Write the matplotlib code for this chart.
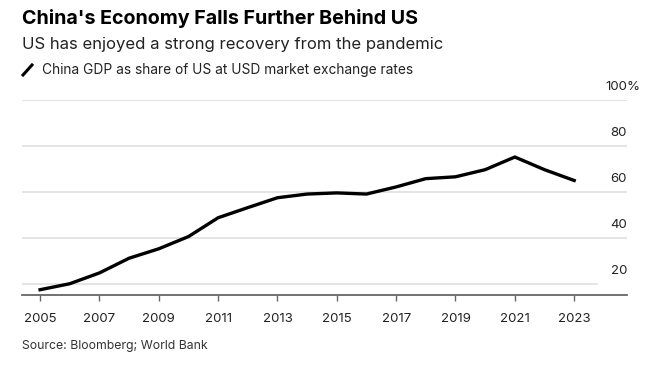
import matplotlib
matplotlib.use('Agg')
import matplotlib.pyplot as plt
import matplotlib.transforms as mtransforms

# China GDP as share of US (%)
years = [2005, 2006, 2007, 2008, 2009, 2010, 2011, 2012, 2013, 2014,
         2015, 2016, 2017, 2018, 2019, 2020, 2021, 2022, 2023]
share = [17.5, 20.1, 24.8, 31.2, 35.3, 40.6, 48.8, 53.2, 57.5, 59.1,
         59.6, 59.1, 62.2, 65.8, 66.6, 69.7, 75.2, 69.7, 65.0]
tick_years = list(range(2005, 2024, 2))
y_levels = [20, 40, 60, 80, 100]

plt.rcParams['font.family'] = ['Inter', 'Liberation Sans', 'DejaVu Sans']

W, H = 671, 370
fig = plt.figure(figsize=(W / 100, H / 100), dpi=100)

def fx(px):
    return px / W

def fy(py):
    return 1 - py / H

ax = fig.add_axes([fx(22), fy(295), fx(627) - fx(22), fy(100) - fy(295)])
ax.set_xlim(2004.39, 2024.78)
ax.set_ylim(15.2, 100)

for lv in y_levels:
    # the lowest gridline stops short of the label column
    ax.axhline(lv, xmax=0.95 if lv == 20 else 1.0, color='#e2e2e2', lw=1.3, zorder=1)

ax.plot(years, share, color='black', lw=2.4, solid_joinstyle='miter', zorder=3)

# y labels sit above the gridlines, right aligned
trans = mtransforms.blended_transform_factory(ax.transAxes, ax.transData)
for lv in y_levels:
    ax.annotate(f'{lv}', xy=(1.0, lv), xycoords=trans, xytext=(0, 9.5),
                textcoords='offset points', ha='right', va='center',
                fontsize=9.5, color='#222222')
ax.annotate('%', xy=(1.0, 100), xycoords=trans, xytext=(0, 9.5),
            textcoords='offset points', ha='left', va='center',
            fontsize=9.5, color='#222222')

for s in ['top', 'right', 'left']:
    ax.spines[s].set_visible(False)
ax.spines['bottom'].set_color('#666666')
ax.spines['bottom'].set_linewidth(1.3)
ax.set_yticks([])
ax.set_xticks(tick_years)
ax.set_xticklabels([str(y) for y in tick_years])
ax.tick_params(axis='x', length=4.5, width=1, color='#666666', pad=8.5,
               labelsize=9.5, labelcolor='#222222')

fig.text(fx(22), fy(18), "China's Economy Falls Further Behind US",
         fontsize=14.2, fontweight='bold', color='black', va='center', ha='left')
fig.text(fx(22), fy(44), 'US has enjoyed a strong recovery from the pandemic',
         fontsize=12, color='#222222', va='center', ha='left')
fig.text(fx(42), fy(70), 'China GDP as share of US at USD market exchange rates',
         fontsize=9.9, color='#222222', va='center', ha='left')
fig.add_artist(plt.Line2D([fx(23), fx(32)], [fy(75), fy(65)], color='black',
                          lw=2.2, transform=fig.transFigure))
fig.text(fx(22), fy(346), 'Source: Bloomberg; World Bank',
         fontsize=8.8, color='#333333', va='center', ha='left')

fig.savefig('out.png', dpi=100)
